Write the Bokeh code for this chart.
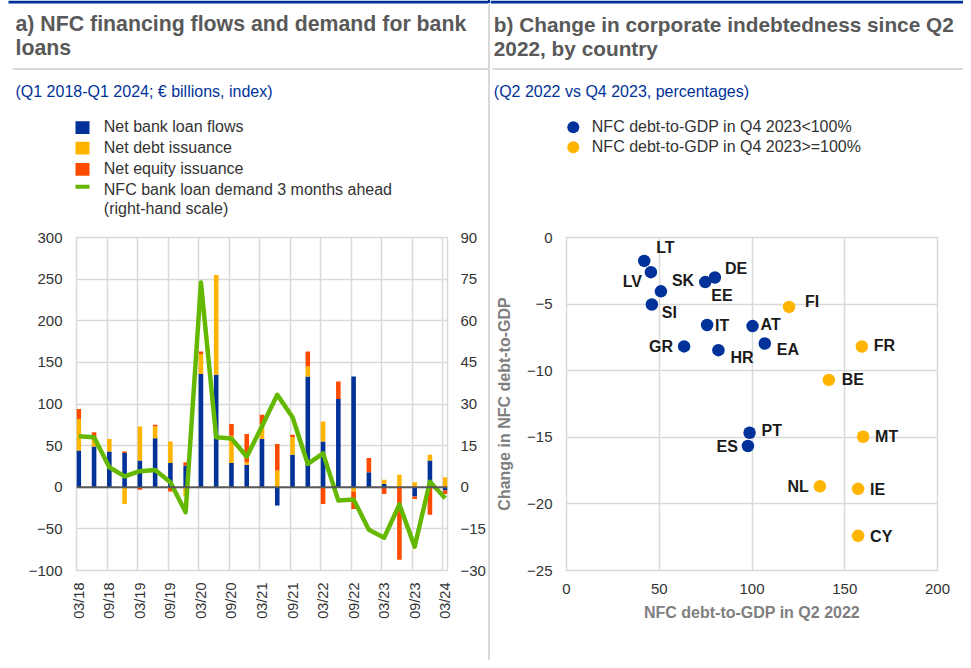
import math
from bokeh.plotting import figure
from bokeh.models import Range1d, LinearAxis, FixedTicker, Span, ColumnDataSource, Spacer
from bokeh.layouts import row, column
from bokeh.core.properties import value
from bokeh.embed import file_html
from bokeh.resources import INLINE

# ---------------- data: panel a ----------------
quarters = ["03/18", "06/18", "09/18", "12/18", "03/19", "06/19", "09/19", "12/19",
            "03/20", "06/20", "09/20", "12/20", "03/21", "06/21", "09/21", "12/21",
            "03/22", "06/22", "09/22", "12/22", "03/23", "06/23", "09/23", "12/23", "03/24"]
net_bank_loan_flows = [44, 49, 43, 41, 32, 59, 29, 26, 136, 135, 29, 27, 58, -22, 39, 133,
                       55, 106, 133, 18, 4, 0, -11, 32, -4]
net_debt_issuance = [38, 8, 15, -20, 41, 14, 26, -11, 24, 120, 33, 3, 18, 20, 21, 12,
                     24, 0, -5, 0, 5, 15, 6, 7, 12]
net_equity_issuance = [12, 9, 0, 2, -3, 2, -5, 4, 3, 0, 14, 34, 11, 32, 3, 18,
                       -20, 21, -21, 17, -8, -87, -3, -33, -4]
loan_demand_3m_ahead = [18.4, 18, 7.2, 3.9, 5.8, 6.2, 1.8, -9, 73.8, 18, 17.6, 11, 22, 33.3,
                        25.2, 8.4, 12.2, -4.8, -4.4, -15.3, -18.2, -6.2, -21.4, 2, -4]
left_ticks = [-100, -50, 0, 50, 100, 150, 200, 250, 300]
right_ticks = [-30, -15, 0, 15, 30, 45, 60, 75, 90]

# ---------------- data: panel b ----------------
countries = ["LT", "LV", "SK", "EE", "DE", "SI", "IT", "AT", "GR", "HR", "EA",
             "FI", "FR", "BE", "PT", "ES", "MT", "NL", "IE", "CY"]
debt_to_gdp_q2_2022 = [41.9, 45.5, 50.9, 74.8, 80.0, 46.0, 75.8, 100.3, 63.4, 81.9, 106.9,
                       120.0, 159.2, 141.4, 98.7, 97.8, 159.9, 136.6, 157.2, 157.2]
change_debt_to_gdp = [-1.76, -2.6, -4.04, -3.35, -3.0, -5.03, -6.57, -6.65, -8.18, -8.46, -7.96,
                      -5.21, -8.18, -10.69, -14.66, -15.65, -14.96, -18.68, -18.87, -22.4]
high_debt_q4_2023 = [False, False, False, False, False, False, False, False, False, False, False,
                     True, True, True, False, False, True, True, True, True]
b_x_ticks = [0, 50, 100, 150, 200]
b_y_ticks = [-25, -20, -15, -10, -5, 0]

# ---------------- styles ----------------
FONT = value("Liberation Sans")
FONT_NAME = "Liberation Sans"
BLUE = "#003299"
YELLOW = "#ffb400"
RED = "#ff4b00"
GREEN = "#65b800"
GRID = "#d9d9d9"
TITLE_C = "#595959"
TEXT_C = "#333333"
HEAD_H = 225
CHART_H = 435

# label placement (screen px; dx, dy-down, align)
label_pos = {
    "LT": (12, -13, "left"), "LV": (-9, 9, "right"), "SK": (11, -11, "left"),
    "DE": (10, -9, "left"), "EE": (6, 13, "left"), "SI": (10, 8, "left"),
    "IT": (8, 0, "left"), "AT": (8, -2, "left"), "GR": (-11, 0, "right"),
    "HR": (12, 7, "left"), "EA": (12, 6, "left"), "FI": (16, -5, "left"),
    "FR": (12, -1, "left"), "BE": (13, 0, "left"), "PT": (12, -2, "left"),
    "ES": (-10, 1, "right"), "MT": (12, 0, "left"), "NL": (-11, 0, "right"),
    "IE": (12, 1, "left"), "CY": (12, 1, "left"),
}


def header(width, height, title_lines, subtitle, tx, sep_x0, line_x0, title_size):
    h = figure(width=width, height=height, x_range=Range1d(0, width), y_range=Range1d(height, 0),
               min_border=0, toolbar_location=None, output_backend="svg",
               x_axis_location=None, y_axis_location=None)
    h.grid.visible = False
    h.outline_line_color = None
    h.quad(left=[line_x0], right=[width], top=[0], bottom=[3], fill_color=BLUE, line_color=None)
    h.text(x=[tx] * len(title_lines), y=[23.5, 47.8][:len(title_lines)], text=title_lines,
           text_font=FONT, text_font_size=title_size, text_font_style="bold", text_color=TITLE_C,
           text_baseline="middle", text_align="left")
    h.segment(x0=[sep_x0], y0=[68.5], x1=[width], y1=[68.5], line_color=GRID, line_width=2)
    h.text(x=[tx], y=[91], text=[subtitle], text_font=FONT, text_font_size="16px",
           text_color=BLUE, text_baseline="middle", text_align="left")
    return h


# ================= panel a header =================
lh = header(488, HEAD_H, ["a) NFC financing flows and demand for bank", "loans"],
            "(Q1 2018-Q1 2024; \u20ac billions, index)", 15, 12, 8, "21.3px")
leg_names = ["Net bank loan flows", "Net debt issuance", "Net equity issuance",
             "NFC bank loan demand 3 months ahead", "(right-hand scale)"]
leg_mid = [126, 147, 168, 188.5, 208]
lh.quad(left=[75, 75, 75], right=[89, 89, 89], top=[120.7, 141.2, 162.5],
        bottom=[133.5, 154, 175.3], fill_color=[BLUE, YELLOW, RED], line_color=None)
lh.segment(x0=[75], y0=[186.2], x1=[89], y1=[186.2], line_color=GREEN, line_width=4)
lh.text(x=[103.3] * 5, y=leg_mid, text=leg_names, text_font=FONT, text_font_size="16px",
        text_color=TEXT_C, text_baseline="middle", text_align="left")

# ================= panel a chart =================
n = len(quarters)
xs = list(range(n))
pos_base = [0.0] * n
neg_base = [0.0] * n
stacks = []
for series in (net_bank_loan_flows, net_debt_issuance, net_equity_issuance):
    bottoms, tops = [], []
    for i, v in enumerate(series):
        if v >= 0:
            bottoms.append(pos_base[i]); tops.append(pos_base[i] + v); pos_base[i] += v
        else:
            bottoms.append(neg_base[i]); tops.append(neg_base[i] + v); neg_base[i] += v
    stacks.append((bottoms, tops))

lc = figure(width=488, height=CHART_H, x_range=Range1d(-0.15, n - 1 + 0.15), y_range=Range1d(-100, 300),
            min_border_left=76, min_border_right=40, min_border_top=12, min_border_bottom=90,
            toolbar_location=None, output_backend="svg")
lc.extra_y_ranges = {"rhs": Range1d(-30, 90)}
for (b, t), col in zip(stacks, (BLUE, YELLOW, RED)):
    lc.vbar(x=xs, bottom=b, top=t, width=0.3, fill_color=col, line_color=None)
lc.add_layout(Span(location=0, dimension="width", line_color="#595959", line_width=2))
lc.line(x=xs, y=loan_demand_3m_ahead, y_range_name="rhs", line_color=GREEN, line_width=4.5,
        line_join="round")

rax = LinearAxis(y_range_name="rhs", ticker=FixedTicker(ticks=right_ticks))
lc.add_layout(rax, "right")
lc.yaxis[0].ticker = FixedTicker(ticks=left_ticks)
lc.xaxis.ticker = FixedTicker(ticks=list(range(0, n, 2)))
lc.xaxis.major_label_overrides = {i: quarters[i] for i in range(0, n, 2)}
lc.xaxis.major_label_orientation = math.pi / 2
lc.xgrid.ticker = FixedTicker(ticks=[i - 0.15 for i in range(0, n, 2)])
for ax in lc.axis:
    ax.axis_line_color = None
    ax.major_tick_line_color = None
    ax.minor_tick_line_color = None
    ax.major_tick_out = 0
    ax.major_tick_in = 0
    ax.minor_tick_out = 0
    ax.major_label_text_font = FONT_NAME
    ax.major_label_text_font_size = "15px"
    ax.major_label_text_color = TEXT_C
    ax.major_label_standoff = 14
rax.major_label_standoff = 13
lc.xaxis.major_label_text_font_size = "14.5px"
lc.xaxis.major_label_standoff = 12
lc.grid.grid_line_color = GRID
lc.grid.grid_line_width = 1.5
lc.outline_line_color = GRID
lc.outline_line_width = 1.5

# ================= panel b header =================
rh = header(473, HEAD_H, ["b) Change in corporate indebtedness since Q2", "2022, by country"],
            "(Q2 2022 vs Q4 2023, percentages)", 3.3, 2, 0, "20.8px")
rh.scatter(x=[82.8, 82.8], y=[126.7, 146.7], size=12, fill_color=[BLUE, YELLOW], line_color=None)
rh.text(x=[101.3, 101.3], y=[126, 146],
        text=["NFC debt-to-GDP in Q4 2023<100%", "NFC debt-to-GDP in Q4 2023>=100%"],
        text_font=FONT, text_font_size="16px", text_color=TEXT_C, text_baseline="middle",
        text_align="left")

# ================= panel b chart =================
rc = figure(width=473, height=CHART_H, x_range=Range1d(0, 200), y_range=Range1d(-25, 0),
            min_border_left=76, min_border_right=26, min_border_top=12, min_border_bottom=87,
            toolbar_location=None, output_backend="svg")
rc.xaxis.ticker = FixedTicker(ticks=b_x_ticks)
rc.yaxis.ticker = FixedTicker(ticks=b_y_ticks)
for ax in rc.axis:
    ax.axis_line_color = None
    ax.major_tick_line_color = None
    ax.minor_tick_line_color = None
    ax.major_tick_out = 0
    ax.major_tick_in = 0
    ax.minor_tick_out = 0
    ax.major_label_text_font = FONT_NAME
    ax.major_label_text_font_size = "15px"
    ax.major_label_text_color = TEXT_C
    ax.axis_label_text_font = FONT_NAME
    ax.axis_label_text_font_size = "16px"
    ax.axis_label_text_font_style = "bold"
    ax.axis_label_text_color = "#7f7f7f"
rc.xaxis.major_label_standoff = 13
rc.yaxis.major_label_standoff = 14
rc.xaxis.axis_label = "NFC debt-to-GDP in Q2 2022"
rc.yaxis.axis_label = "Change in NFC debt-to-GDP"
rc.xaxis.axis_label_standoff = 7
rc.yaxis.axis_label_standoff = 11
rc.grid.grid_line_color = GRID
rc.grid.grid_line_width = 1.5
rc.outline_line_color = GRID
rc.outline_line_width = 1.5

colors = [YELLOW if h else BLUE for h in high_debt_q4_2023]
rc.scatter(x=debt_to_gdp_q2_2022, y=change_debt_to_gdp, size=12.5, fill_color=colors, line_color=None)
for align in ("left", "right"):
    idx = [i for i, c in enumerate(countries) if label_pos[c][2] == align]
    src = ColumnDataSource(dict(
        x=[debt_to_gdp_q2_2022[i] for i in idx],
        y=[change_debt_to_gdp[i] for i in idx],
        t=[countries[i] for i in idx],
        dx=[label_pos[countries[i]][0] for i in idx],
        dy=[label_pos[countries[i]][1] for i in idx],
    ))
    rc.text(x="x", y="y", text="t", x_offset="dx", y_offset="dy", source=src,
            text_font=FONT, text_font_size="16px", text_font_style="bold", text_color="#1a1a1a",
            text_align=align, text_baseline="middle")

top_div = column(Spacer(width=2, height=3, styles={"background-color": BLUE}),
                 Spacer(width=2, height=HEAD_H - 3, styles={"background-color": GRID}))
top_row = row(lh, top_div, rh)
bottom_row = row(lc, Spacer(width=2, height=CHART_H, styles={"background-color": GRID}), rc)
layout = column(top_row, bottom_row)

open("out.html", "w").write(file_html(layout, INLINE))
